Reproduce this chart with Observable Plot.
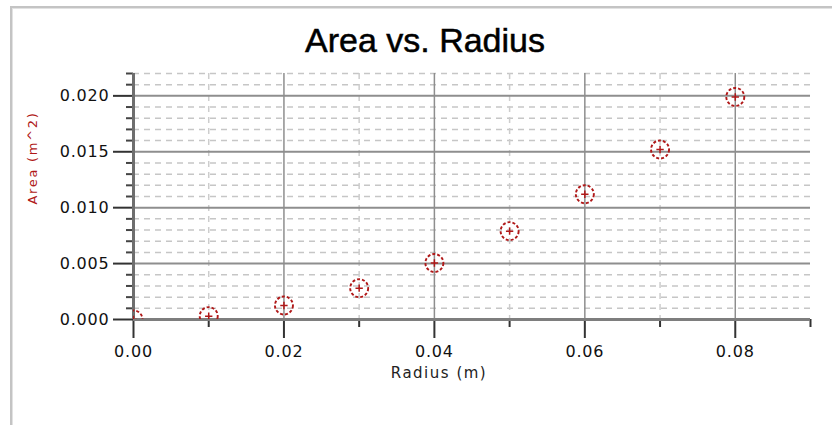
<!DOCTYPE html>
<html>
<head>
<meta charset="utf-8">
<script src="https://cdn.jsdelivr.net/npm/d3@7"></script>
<script src="https://cdn.jsdelivr.net/npm/@observablehq/plot@0.6"></script>
<style>
html, body { margin: 0; padding: 0; background: #fff; }
#wrap { position: relative; width: 832px; height: 425px; overflow: hidden; font-family: "Liberation Sans", Arial, sans-serif; }
#title { box-sizing: border-box; width: 832px; height: 62px; padding-top: 23px; padding-left: 18px; text-align: center; font-size: 34px; line-height: 34px; color: #000; white-space: nowrap; -webkit-text-stroke: 0.5px #000; }
#frame { position: absolute; left: 10px; top: 6px; right: -4px; bottom: -4px; border-left: 2px solid #c4c4c4; border-top: 2px solid #c4c4c4; box-shadow: inset 1px 1px 0 #e2e2e2; z-index: 2; pointer-events: none; }
g[aria-label="y-axis tick label"] text, g[aria-label="x-axis tick label"] text { letter-spacing: 0.8px; font-family: "DejaVu Sans", Verdana, sans-serif; }
</style>
</head>
<body>
<div id="wrap">
  <div id="frame"></div>
  <div id="title">Area vs. Radius</div>
  <div id="chart"></div>
</div>
<script>
// Data
const radius = [0.00, 0.01, 0.02, 0.03, 0.04, 0.05, 0.06, 0.07, 0.08];
const area   = [0.0000, 0.0003, 0.00125, 0.0028, 0.00505, 0.0079, 0.0112, 0.0152, 0.0199];

// Tick values
const xMajorTicks = [0.00, 0.02, 0.04, 0.06, 0.08];
const xMinorTicks = [0.01, 0.03, 0.05, 0.07, 0.09];
const xMinorGrid  = [0.01, 0.03, 0.05, 0.07];
const yMajorTicks = [0.000, 0.005, 0.010, 0.015, 0.020];
const yMinorTicks = [0.001, 0.002, 0.003, 0.004, 0.006, 0.007, 0.008, 0.009,
                     0.011, 0.012, 0.013, 0.014, 0.016, 0.017, 0.018, 0.019, 0.021, 0.022];

const xLabel = "Radius (m)";
const yLabel = "Area (m^2)";

const data = radius.map((r, i) => ({radius: r, area: area[i]}));
const red = "#b01818";
const gridMinor = "#c6c6c6";
const gridMajor = "#8e8e8e";
const labelFont = "'DejaVu Sans', Verdana, sans-serif";

const plot = Plot.plot({
  width: 832,
  height: 363,
  marginLeft: 133,
  marginRight: 22,
  marginTop: 11,
  marginBottom: 106,
  style: {fontFamily: "'Liberation Sans', Arial, sans-serif", background: "transparent", overflow: "visible"},
  x: {domain: [0, 0.09]},
  y: {domain: [0, 0.022]},
  marks: [
    Plot.ruleY(yMinorTicks, {stroke: gridMinor, strokeWidth: 1.5, strokeDasharray: "6,5"}),
    Plot.ruleX(xMinorGrid, {stroke: "#cdcdcd", strokeWidth: 1.5, strokeDasharray: "6,5"}),
    Plot.ruleY(yMajorTicks.filter(v => v > 0), {stroke: gridMajor, strokeWidth: 2}),
    Plot.ruleX(xMajorTicks.filter(v => v > 0), {stroke: gridMajor, strokeWidth: 1.5}),
    Plot.axisY(yMinorTicks, {tickSize: 7, tickFormat: () => "", stroke: "#444", strokeWidth: 2, label: null}),
    Plot.axisY(yMajorTicks, {tickSize: 20, tickPadding: 4, tickFormat: d => d.toFixed(3), fontSize: 16, fill: "#111", stroke: "#333", strokeWidth: 2, label: null}),
    Plot.axisX(xMinorTicks, {tickSize: 8, tickFormat: () => "", stroke: "#333", strokeWidth: 2, label: null}),
    Plot.axisX(xMajorTicks, {tickSize: 19, tickPadding: 7, tickFormat: d => d.toFixed(2), fontSize: 16, fill: "#111", stroke: "#333", strokeWidth: 2, label: null}),
    Plot.ruleX([0], {stroke: "#6e6e6e", strokeWidth: 3}),
    Plot.ruleY([0], {stroke: "#7e7e7e", strokeWidth: 3}),
    Plot.dot(data, {x: "radius", y: "area", r: 9, stroke: red, strokeWidth: 1.9, strokeDasharray: "3,2", clip: true}),
    Plot.dot(data, {x: "radius", y: "area", symbol: "plus", r: 2.5, stroke: red, strokeWidth: 1.5, clip: true}),
    Plot.text([xLabel], {frameAnchor: "bottom", dx: -33, dy: 58, fontSize: 15, fontFamily: labelFont, fill: "#222"}),
    Plot.text([yLabel], {frameAnchor: "left", rotate: -90, dx: -101, dy: 8, fontSize: 13, fontFamily: labelFont, fill: red})
  ]
});
const textGroups = d3.select(plot).selectAll('g[aria-label="text"]').nodes();
if (textGroups[0]) d3.select(textGroups[0]).selectAll("text").style("letter-spacing", "1.5px");
if (textGroups[1]) d3.select(textGroups[1]).selectAll("text").style("letter-spacing", "1.7px");
document.getElementById("chart").appendChild(plot);
</script>
</body>
</html>
